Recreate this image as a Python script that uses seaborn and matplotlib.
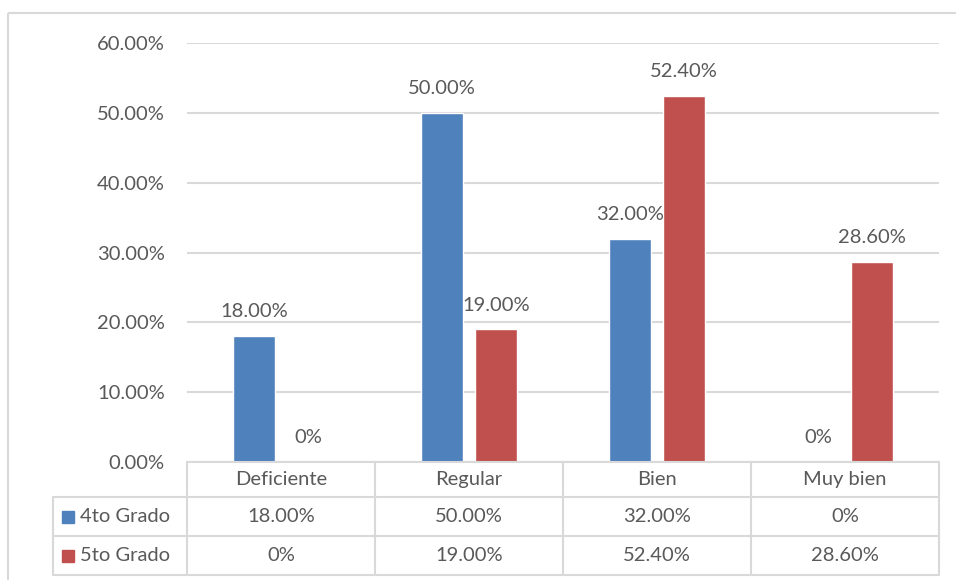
import pandas as pd
import matplotlib
matplotlib.use("Agg")
import matplotlib.pyplot as plt
from matplotlib.patches import Rectangle
from matplotlib.lines import Line2D
import seaborn as sns

categories = ['Deficiente', 'Regular', 'Bien', 'Muy bien']
series_names = ['4to Grado', '5to Grado']
grado4 = [18.00, 50.00, 32.00, 0.0]
grado5 = [0.0, 19.00, 52.40, 28.60]
y_ticks = [0, 10, 20, 30, 40, 50, 60]
colors = ['#4F81BD', '#C0504D']


def fmt(v):
    return '0%' if v == 0 else f'{v:.2f}%'


df = pd.DataFrame({
    'cat': categories * 2,
    'serie': [series_names[0]] * 4 + [series_names[1]] * 4,
    'val': grado4 + grado5,
})

sns.set_style('white')
plt.rcParams['font.family'] = ['Lato', 'DejaVu Sans']
txt = '#595959'
grid = '#D9D9D9'
fs = 14.5

W, H = 956, 580
fig = plt.figure(figsize=(W / 100, H / 100), dpi=100)

# plot area in pixel coords
x0, x1, ytop, ybot = 187, 939, 43, 462
ax = fig.add_axes([x0 / W, 1 - ybot / H, (x1 - x0) / W, (ybot - ytop) / H])
sns.barplot(data=df, x='cat', y='val', hue='serie', order=categories,
            hue_order=series_names, palette=colors, width=0.574, gap=0.22,
            saturation=1, ax=ax, legend=False)
ax.set_xlim(-0.5, 3.5)
ax.set_ylim(0, 60)
ax.set_yticks(y_ticks)
ax.set_yticklabels([f'{t:.2f}%' for t in y_ticks], color=txt, fontsize=fs)
ax.tick_params(axis='y', length=0, pad=16)
ax.set_xticks([])
ax.set_xlabel('')
ax.set_ylabel('')
for s in ax.spines.values():
    s.set_visible(False)
ax.grid(axis='y', color=grid, linewidth=1.5)
ax.set_axisbelow(True)

for cont in ax.containers:
    for bar in cont:
        v = bar.get_height()
        ax.annotate(fmt(v), (bar.get_x() + bar.get_width() / 2, v),
                    xytext=(0, 17.5), textcoords='offset points',
                    ha='center', va='center', color=txt, fontsize=fs)

# data table drawn in pixel coords on an overlay axes
tab = fig.add_axes([0, 0, 1, 1], facecolor='none')
tab.set_xlim(0, W)
tab.set_ylim(H, 0)
tab.axis('off')

col_w = (x1 - x0) / len(categories)
rows = [462, 497, 536, 575]
leg_x = 53
lw = 1.5
# horizontal lines
tab.add_line(Line2D([x0, x1], [rows[0], rows[0]], color=grid, lw=lw))
for r in rows[1:]:
    tab.add_line(Line2D([leg_x, x1], [r, r], color=grid, lw=lw))
# vertical lines
for i in range(len(categories) + 1):
    xx = x0 + i * col_w
    tab.add_line(Line2D([xx, xx], [rows[0], rows[3]], color=grid, lw=lw))
tab.add_line(Line2D([leg_x, leg_x], [rows[1], rows[3]], color=grid, lw=lw))

for i, c in enumerate(categories):
    cx = x0 + (i + 0.5) * col_w
    tab.text(cx, (rows[0] + rows[1]) / 2, c, ha='center', va='center',
             color=txt, fontsize=fs)
    for j, vals in enumerate([grado4, grado5]):
        tab.text(cx, (rows[j + 1] + rows[j + 2]) / 2, fmt(vals[i]),
                 ha='center', va='center', color=txt, fontsize=fs)

for j, name in enumerate(series_names):
    cy = (rows[j + 1] + rows[j + 2]) / 2
    tab.add_patch(Rectangle((62, cy - 6), 12, 12, color=colors[j]))
    tab.text(80, cy, name, ha='left', va='center', color=txt, fontsize=fs)

# outer chart border
tab.add_patch(Rectangle((8, 13), 960, 600, fill=False, edgecolor=grid, lw=1.5))

fig.savefig('out.png', dpi=100)
